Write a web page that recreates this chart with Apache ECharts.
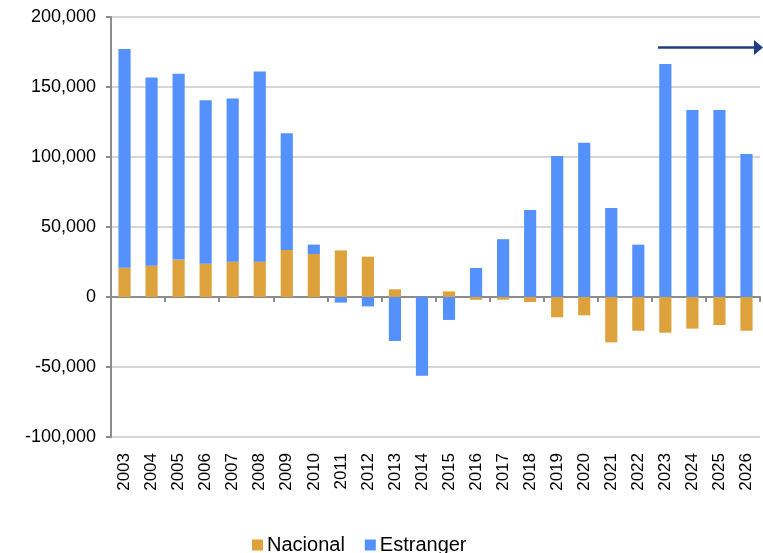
<!DOCTYPE html>
<html>
<head>
<meta charset="utf-8">
<script src="https://cdn.jsdelivr.net/npm/echarts@6/dist/echarts.min.js"></script>
<style>
  html, body { margin: 0; padding: 0; background: #fff; }
  #chart { width: 763px; height: 553px; }
</style>
</head>
<body>
<div id="chart"></div>
<script>
const years = ["2003", "2004", "2005", "2006", "2007", "2008", "2009", "2010", "2011", "2012", "2013", "2014",
  "2015", "2016", "2017", "2018", "2019", "2020", "2021", "2022", "2023", "2024", "2025", "2026"];
const nacional = [20900, 22400, 26700, 23800, 25200, 25200, 33600, 30700, 33300, 28800, 5500, 0,
  4000, -2000, -1900, -3600, -14500, -13100, -32400, -24100, -25500, -22600, -20000, -24100];
const estranger = [156200, 134300, 132800, 116700, 116500, 135800, 83300, 6700, -4000, -6700, -31400, -56200,
  -16400, 20700, 41300, 62100, 100700, 110200, 63600, 37400, 166400, 133600, 133600, 102100];
const yTicks = [-100000, -50000, 0, 50000, 100000, 150000, 200000];

const font = "Liberation Sans, Arial, sans-serif";
const axisGrey = "#8c8c8c";

const chart = echarts.init(document.getElementById("chart"));

chart.setOption({
  animation: false,
  grid: { left: 111, right: 3, top: 17, bottom: 116, containLabel: false },
  legend: {
    left: 247,
    top: 530,
    itemWidth: 11,
    itemHeight: 11,
    itemGap: 20,
    icon: "rect",
    textStyle: { fontFamily: font, fontSize: 20, color: "#000", padding: [0, 0, 0, -1] },
    data: ["Nacional", "Estranger"]
  },
  xAxis: [
    {
      type: "category",
      data: years,
      axisLine: { onZero: true, lineStyle: { color: axisGrey, width: 2 } },
      axisTick: { show: true, length: 5, lineStyle: { color: axisGrey, width: 2 } },
      axisLabel: { show: false }
    },
    {
      type: "category",
      data: years,
      position: "bottom",
      axisLine: { show: false, onZero: false },
      axisTick: { show: false },
      axisLabel: {
        rotate: 90,
        margin: 16,
        fontFamily: font,
        fontSize: 17,
        color: "#000"
      }
    }
  ],
  yAxis: {
    type: "value",
    min: -100000,
    max: 200000,
    interval: 50000,
    axisLine: { show: true, lineStyle: { color: axisGrey, width: 2 } },
    axisTick: { show: true, length: 5, lineStyle: { color: axisGrey, width: 2 } },
    splitLine: { lineStyle: { color: "#c8c8c8", width: 1.5 } },
    axisLabel: {
      margin: 15,
      fontFamily: font,
      fontSize: 18,
      color: "#000",
      formatter: function (v) {
        return yTicks.includes(v) ? v.toLocaleString("en-US") : "";
      }
    }
  },
  series: [
    {
      name: "Nacional",
      type: "bar",
      stack: "total",
      barWidth: "45%",
      itemStyle: { color: "#dea23c" },
      data: nacional
    },
    {
      name: "Estranger",
      type: "bar",
      stack: "total",
      barWidth: "45%",
      itemStyle: { color: "#5591fd" },
      data: estranger
    }
  ],
  graphic: [
    {
      type: "line",
      shape: { x1: 658, y1: 47.5, x2: 756, y2: 47.5 },
      style: { stroke: "#1d3f7f", lineWidth: 2.5 }
    },
    {
      type: "polygon",
      shape: { points: [[754, 40], [763, 47.5], [754, 55]] },
      style: { fill: "#1d3f7f" }
    }
  ]
});
</script>
</body>
</html>
